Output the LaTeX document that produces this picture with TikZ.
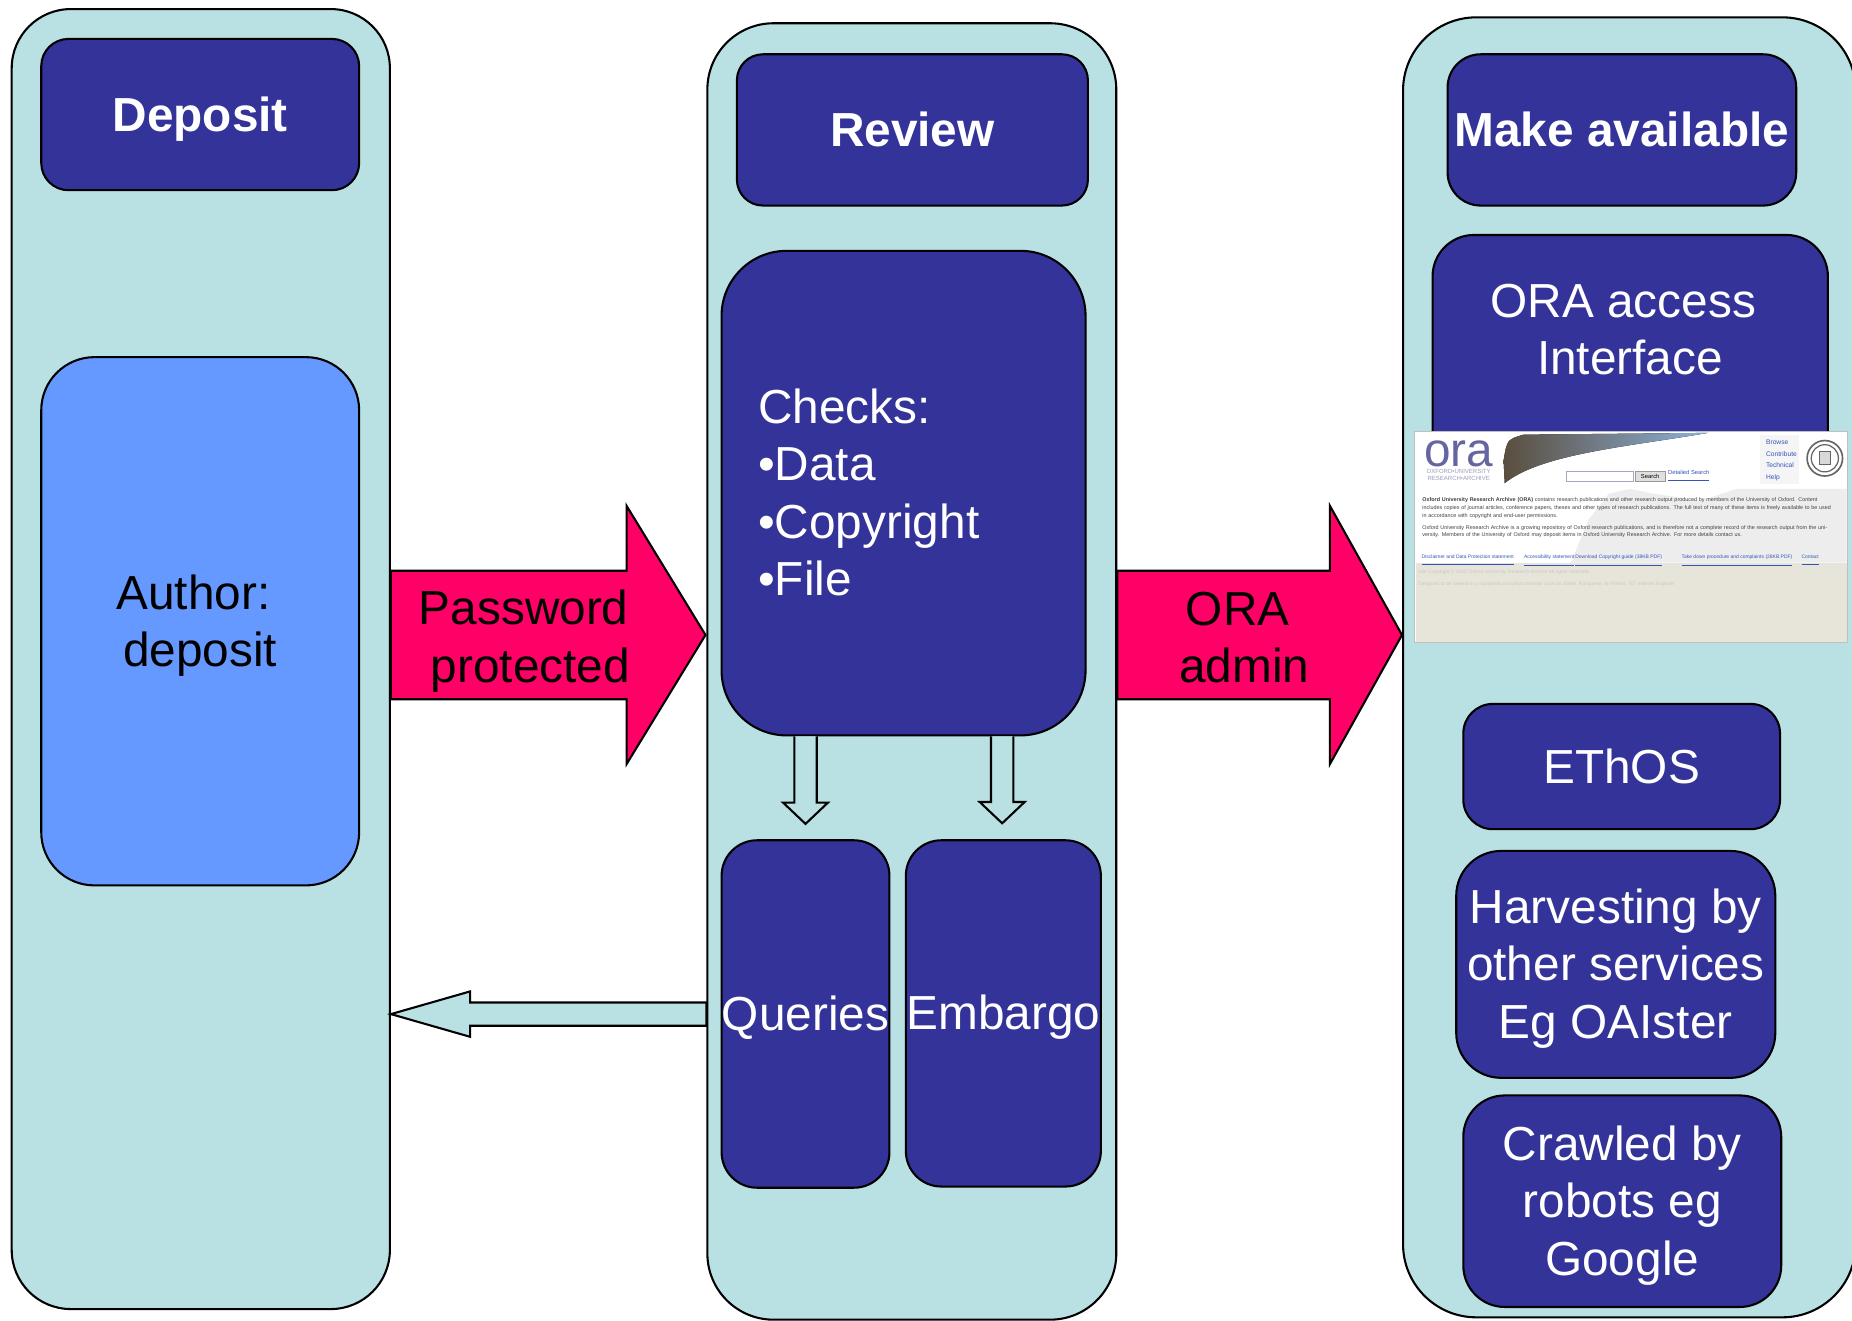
\documentclass[tikz,border=0pt]{standalone}
\usepackage{fontspec}
\setmainfont{Liberation Sans}
\usetikzlibrary{calc}
\definecolor{colbg}{HTML}{B9E0E3}
\definecolor{navy}{HTML}{333399}
\definecolor{authorblue}{HTML}{6699FF}
\definecolor{hotpink}{HTML}{FF0066}
\definecolor{shotbeige}{HTML}{E7E5DA}
\definecolor{linkblue}{HTML}{3355BB}
\definecolor{logoblue}{HTML}{4A4A8E}
\definecolor{bannerdark}{HTML}{5A4E3E}
\definecolor{bannermid}{HTML}{C2A062}
\definecolor{bannersky}{HTML}{8CB2DC}
\newcommand\tst{\rule{0pt}{0.905em}}
\newcommand\bst{\rule[-0.212em]{0pt}{0pt}}
\newcommand\mysize{\fontsize{11.5pt}{13.85pt}\selectfont}
\newcommand\mybold{\fontsize{11.5pt}{13.85pt}\selectfont\bfseries}
\newcommand\mytiny{\fontsize{1.3pt}{1.85pt}\selectfont}
\newcommand\mylink{\fontsize{1.2pt}{1.5pt}\selectfont}
\begin{document}
\begin{tikzpicture}[x=0.01cm, y=-0.01cm,
  outl/.style={draw=black, line width=0.5pt},
  column/.style={outl, fill=colbg, rectangle, inner sep=0pt},
  darkbox/.style={outl, fill=navy, rectangle, inner sep=0pt, text=white, align=center, font=\mysize},
  titlebox/.style={darkbox, font=\mybold},
  hollow/.style={outl, fill=colbg, line join=miter},
  pinkarrow/.style={outl, fill=hotpink, line join=miter},
  arrowtext/.style={inner sep=0pt, align=center, font=\mysize, text=black},
  linktext/.style={inner sep=0pt, anchor=base west, font=\mylink, text=linkblue},
  foottext/.style={inner sep=0pt, anchor=base west, font=\mylink, text=black!22}
]
\useasboundingbox (0,0) rectangle (1568,1118);
\fill[white] (0,0) rectangle (1568,1118);

% ---- columns
\node[column, minimum width=3.20cm, minimum height=11.00cm, rounded corners=0.50cm] (col1) at (170,558) {};
\node[column, minimum width=3.46cm, minimum height=10.97cm, rounded corners=0.56cm] (col2) at (772,568.5) {};
\node[column, minimum width=3.83cm, minimum height=11.00cm, rounded corners=0.62cm] (col3) at (1379.5,565) {};

% ---- level coordinates
\coordinate (lvl) at (0,537.6);
\coordinate (lvlb) at (0,858.6);
\coordinate (p1s) at (col1.east |- lvl);
\coordinate (p1t) at ($(col2.west |- lvl)+(-0.7,0)$);
\coordinate (p2s) at (col2.east |- lvl);
\coordinate (p2t) at (col3.west |- lvl);

% ---- pink arrows
\draw[pinkarrow] ($(p1s)+(0,-54.4)$) -- ($(p1t)+(-66.8,-54.4)$) -- ($(p1t)+(-66.8,-109.3)$) -- (p1t)
  -- ($(p1t)+(-66.8,109.3)$) -- ($(p1t)+(-66.8,54.4)$) -- ($(p1s)+(0,54.4)$) -- cycle;
\draw[pinkarrow] ($(p2s)+(0,-54.4)$) -- ($(p2t)+(-61,-54.4)$) -- ($(p2t)+(-61,-109.3)$) -- (p2t)
  -- ($(p2t)+(-61,109.3)$) -- ($(p2t)+(-61,54.4)$) -- ($(p2s)+(0,54.4)$) -- cycle;
\node[arrowtext] (pwtext) at (449,539.2) {\tst Password\kern0.278em\\protected\bst};
\node[arrowtext] (oratext) at (1053.5,539.5) {\tst ORA\kern0.278em\\admin\bst};

% ---- Deposit column
\node[titlebox, minimum width=2.69cm, minimum height=1.28cm, rounded corners=0.23cm] (dep) at (169.5,97) {\tst Deposit\bst};
\node[outl, fill=authorblue, rectangle, inner sep=0pt, align=center, font=\mysize,
      minimum width=2.69cm, minimum height=4.47cm, rounded corners=0.45cm] (auth) at (169.5,526) {\tst Author:\kern0.278em\\deposit\bst};

% ---- Review column
\node[titlebox, minimum width=2.97cm, minimum height=1.28cm, rounded corners=0.22cm] (rev) at (772.5,110) {\tst Review\bst};
\node[darkbox, align=left, text width=2.46cm, minimum width=3.08cm, minimum height=4.10cm, rounded corners=0.55cm] (checks) at (765,417.5)
  {\tst Checks:\\•Data\\•Copyright\\•File\bst};
\node[darkbox, minimum width=1.42cm, minimum height=2.94cm, rounded corners=0.30cm] (queries) at (682,858.5) {\tst Queries\bst};
\node[darkbox, minimum width=1.65cm, minimum height=2.93cm, rounded corners=0.30cm] (embargo) at (849.5,858) {\tst Embargo\bst};

% down arrows (open at the top, under the Checks box)
\coordinate (d1tip) at ($(queries.north)+(0,-13)$);
\coordinate (d1top) at (checks.south -| d1tip);
\coordinate (d2tip) at ($(embargo.north)+(-1,-13.5)$);
\coordinate (d2top) at (checks.south -| d2tip);
\path[hollow] ($(d1top)+(-9.5,0)$) -- ($(d1tip)+(-9.5,-18)$) -- ($(d1tip)+(-19,-18)$) -- (d1tip)
  -- ($(d1tip)+(19,-18)$) -- ($(d1tip)+(9.5,-18)$) -- ($(d1top)+(9.5,0)$);
\path[hollow] ($(d2top)+(-9.5,0)$) -- ($(d2tip)+(-9.5,-18)$) -- ($(d2tip)+(-19,-18)$) -- (d2tip)
  -- ($(d2tip)+(19,-18)$) -- ($(d2tip)+(9.5,-18)$) -- ($(d2top)+(9.5,0)$);

% back arrow Queries -> Deposit column
\coordinate (qs) at (col2.west |- lvlb);
\coordinate (qt) at (col1.east |- lvlb);
\draw[hollow] ($(qs)+(0,-9.85)$) -- ($(qt)+(67,-9.85)$) -- ($(qt)+(67,-19.2)$) -- (qt)
  -- ($(qt)+(67,19.2)$) -- ($(qt)+(67,9.85)$) -- ($(qs)+(0,9.85)$) -- cycle;

% ---- Make available column
\node[titlebox, minimum width=2.95cm, minimum height=1.28cm, rounded corners=0.28cm] (mk) at (1373.2,110) {\tst Make available\bst};
\node[darkbox, minimum width=3.345cm, minimum height=2.31cm, rounded corners=0.35cm] (oraacc) at (1380.25,314.5) {};
\node[inner sep=0pt, align=center, font=\mysize, text=white] (oraacctext) at (1380,279) {\tst ORA access\kern0.278em\\Interface\bst};

% screenshot of the ORA interface
\node[rectangle, fill=white, draw=black!25, line width=0.3pt, minimum width=3.664cm, minimum height=1.785cm, inner sep=0pt] (shot) at (1381.2,454.75) {};
\fill[black!7] (1330,476.4) -- (1345,440) -- (1362,418) -- (1380,414) -- (1400,418) -- (1440,424) -- (1470,414) -- (1563.5,414) -- (1563.5,476.4) -- cycle;
\fill[shotbeige] (1198.6,476.4) rectangle (1563.5,543.6);
\fill[black!4] (1490,368) rectangle (1523,410);
\fill[left color=bannerdark, middle color=bannermid, right color=bannersky]
  (1274,409) -- (1273,390) .. controls (1276,372) .. (1290,368) -- (1446,366.5)
  .. controls (1380,378) and (1305,384) .. (1274,409) -- cycle;
\node[inner sep=0pt, anchor=base west, text=logoblue!85, font=\fontsize{11.5pt}{11.5pt}\selectfont] (oralogo) at (1205,395) {ora};
\node[inner sep=0pt, align=center, text=logoblue!55, font=\fontsize{1.45pt}{1.75pt}\selectfont] (logosub) at (1235,402) {OXFORD•UNIVERSITY\\RESEARCH•ARCHIVE};
\node[draw=blue!30!black!35, fill=white, line width=0.2pt, minimum width=0.563cm, minimum height=0.084cm, inner sep=0pt] (sbox) at (1354.65,403.6) {};
\node[draw=black!40, fill=black!12, line width=0.2pt, minimum width=0.253cm, minimum height=0.084cm, inner sep=0pt, font=\fontsize{1.4pt}{1.6pt}\selectfont] (sbtn) at (1397.15,403.6) {Search};
\node[inner sep=0pt, anchor=west, text=linkblue, font=\fontsize{1.4pt}{1.6pt}\selectfont] (dsearch) at (1411.6,403.6) {\underline{Detailed Search}};
\node[inner sep=0pt, anchor=north west, align=left, text=linkblue, font=\fontsize{1.6pt}{2.75pt}\selectfont] (rlinks) at (1494.6,372) {Browse\\Contribute\\Technical\\Help};
\node[circle, draw=black!60, fill=white, line width=0.4pt, minimum size=0.30cm, inner sep=0pt] (seal) at (1545,388) {};
\node[circle, draw=black!60, line width=0.3pt, minimum size=0.23cm, inner sep=0pt] (sealin) at (seal.center) {};
\node[draw=black!60, fill=black!15, line width=0.3pt, minimum width=0.09cm, minimum height=0.11cm, inner sep=0pt] (shield) at (seal.center) {};
\node[inner sep=0pt, anchor=north west, text width=3.48cm, align=left, text=black!75, font=\mytiny] (para) at (1203.6,420.7)
  {\hyphenpenalty=10000\exhyphenpenalty=10000
  \textbf{Oxford University Research Archive (ORA)} contains research publications and other research output produced by members of the University of Oxford. Content includes copies of journal articles, conference papers, theses and other types of research publications. The full text of many of these items is freely available to be used in accordance with copyright and end-user permissions.\par\vspace{1.1pt}
  Oxford University Research Archive is a growing repository of Oxford research publications, and is therefore not a complete record of the research output from the university. Members of the University of Oxford may deposit items in Oxford University Research Archive. For more details contact us.};
\node[linktext] (l1) at (1203,473) {\underline{Disclaimer and Data Protection statement}};
\node[linktext] (l2) at (1289.6,473) {\underline{Accessibility statement}};
\node[linktext] (l3) at (1333,473) {\underline{Download Copyright guide (38KB PDF)}};
\node[linktext] (l4) at (1423,473) {\underline{Take down procedure and complaints (28KB PDF)}};
\node[linktext] (l5) at (1524.6,473) {\underline{Contact}};
\node[foottext] (f1) at (1200,485.5) {Site Copyright © 2008 Oxford University Research Archive All rights reserved.};
\node[foottext] (f2) at (1200,496) {Designed to be viewed in a standards compliant browser such as Safari, Konqueror, or Firefox. IE7 Internet Explorer};

\node[darkbox, minimum width=2.68cm, minimum height=1.06cm, rounded corners=0.25cm] (ethos) at (1373,649) {\tst EThOS\bst};
\node[darkbox, minimum width=2.70cm, minimum height=1.92cm, rounded corners=0.38cm] (harv) at (1368,816.5) {\tst Harvesting by\\other services\\Eg OAIster\bst};
\node[darkbox, minimum width=2.69cm, minimum height=1.79cm, rounded corners=0.35cm] (crawl) at (1373.5,1017) {\tst Crawled by\\robots eg\\Google\bst};
\end{tikzpicture}
\end{document}
